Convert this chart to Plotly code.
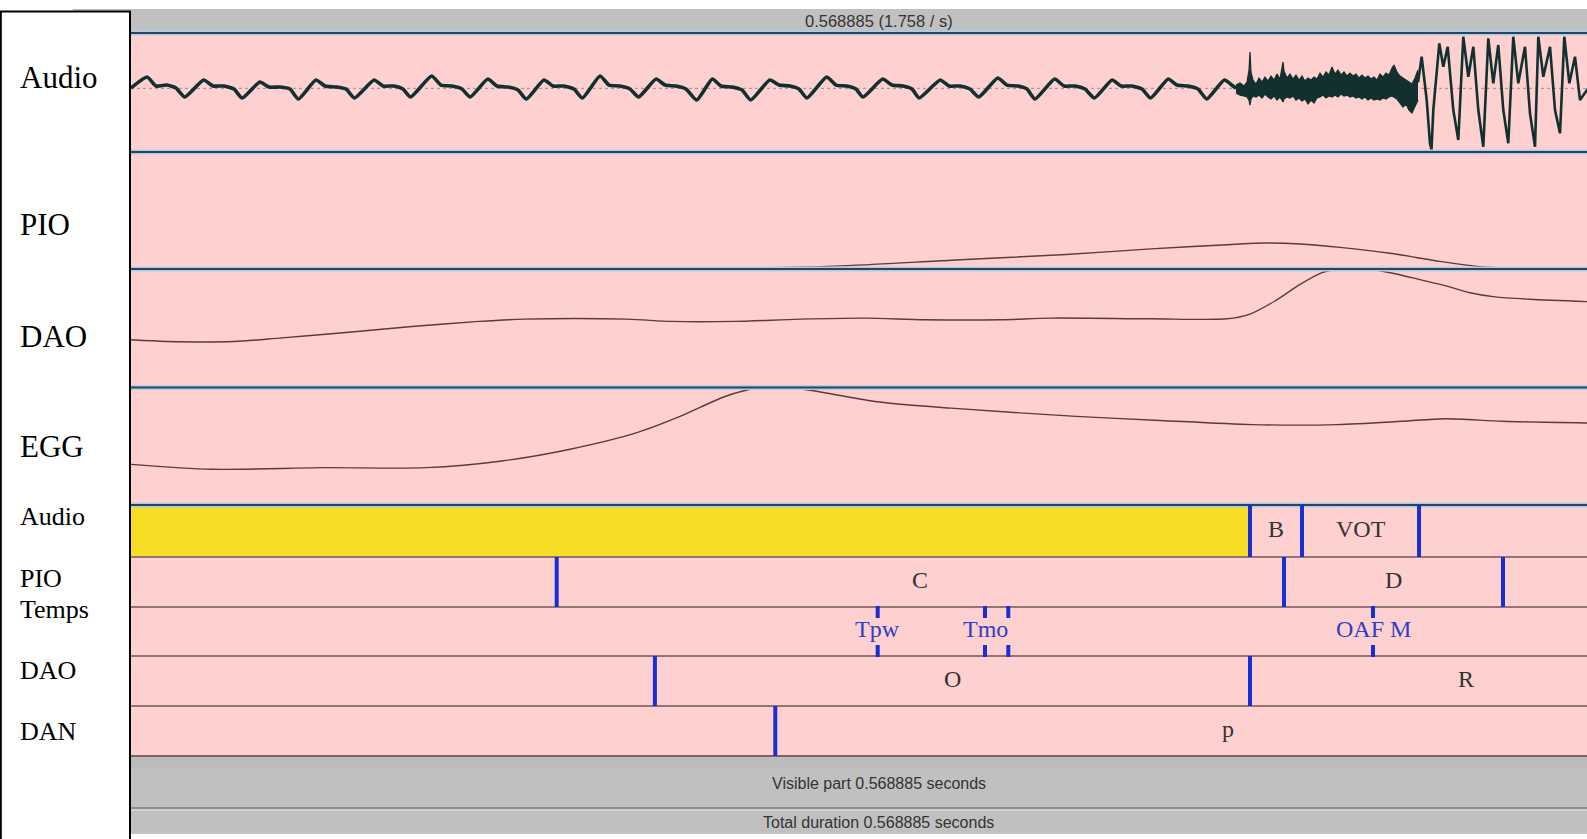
import plotly.graph_objects as go

W, H = 1587, 839

TOTAL_S = 0.568885
TOTAL_MS = TOTAL_S * 1000
VIEW_MS = [19.495, 535.568]

# ---------------- Signals (time in ms) ----------------
# Audio: quiet stretch before the release (relative amplitude)
audio_t = [19.49, 25.17, 28.36, 32.25, 35.44, 38.53, 45.26, 48.56, 52.46, 56.00,
           58.91, 65.15, 68.41, 72.31, 75.85, 78.83, 85.03, 88.26, 92.16, 95.70,
           98.71, 105.66, 108.81, 112.71, 115.90, 118.60, 126.04, 129.37, 133.27, 136.82,
           139.72, 145.96, 149.22, 153.12, 156.67, 159.64, 165.85, 169.07, 172.97, 176.51,
           179.53, 185.73, 188.92, 192.82, 196.36, 199.41, 205.61, 208.77, 212.67, 216.21,
           220.04, 225.53, 228.62, 232.52, 236.06, 239.18, 245.91, 249.18, 253.07, 256.26,
           259.10, 266.05, 269.38, 273.28, 276.46, 278.95, 285.93, 289.23, 293.13, 296.32,
           298.87, 306.31, 309.43, 313.33, 316.87, 320.00, 326.73, 330.00, 333.89, 337.08,
           339.91, 346.86, 350.19, 354.09, 357.64, 361.00, 367.24, 370.40, 374.30, 377.84,
           380.93, 387.13, 390.25, 394.14, 397.69, 400.81, 407.01, 410.09, 411.16]
audio_a = [0.005, 0.19, 0.039, 0.055, 0.005, -0.146, 0.139, 0.039, 0.039, -0.012,
           -0.163, 0.106, 0.022, 0.022, -0.012, -0.18, 0.139, 0.039, 0.022, -0.012,
           -0.163, 0.139, 0.039, 0.039, -0.012, -0.146, 0.207, 0.055, 0.039, -0.012,
           -0.146, 0.156, 0.039, 0.022, -0.029, -0.18, 0.139, 0.039, 0.039, -0.012,
           -0.163, 0.207, 0.055, 0.039, -0.012, -0.146, 0.156, 0.055, 0.039, -0.012,
           -0.197, 0.156, 0.039, 0.022, -0.029, -0.197, 0.139, 0.055, 0.039, -0.012,
           -0.163, 0.19, 0.055, 0.039, -0.012, -0.146, 0.156, 0.055, 0.039, -0.012,
           -0.163, 0.139, 0.039, 0.039, -0.012, -0.146, 0.173, 0.055, 0.039, -0.012,
           -0.18, 0.156, 0.039, 0.039, -0.012, -0.163, 0.139, 0.039, 0.039, -0.012,
           -0.163, 0.156, 0.055, 0.039, -0.012, -0.18, 0.139, 0.039, 0.0]

# Audio: noisy burst, upper / lower envelope
burst_t = [411.16, 412.58, 413.99, 415.06, 415.77, 416.12, 416.47, 417.18, 418.25, 419.31,
           420.37, 421.44, 422.50, 423.56, 424.63, 425.69, 426.75, 427.46, 427.82, 428.17,
           429.23, 430.30, 431.36, 432.42, 433.49, 434.55, 435.61, 436.68, 437.74, 438.80,
           439.87, 440.93, 441.99, 443.06, 444.12, 445.18, 446.25, 447.31, 448.37, 449.44,
           450.50, 451.56, 452.63, 453.69, 454.75, 455.82, 456.88, 457.94, 459.01, 460.07,
           461.13, 462.20, 463.26, 464.32, 465.39, 466.45, 467.16, 468.22, 469.29, 470.35,
           471.41, 472.47, 473.54, 474.60, 475.67]
burst_hi = [0.055, 0.089, 0.039, 0.106, 0.308, 0.610, 0.274, 0.139, 0.072, 0.173,
            0.106, 0.190, 0.123, 0.207, 0.139, 0.240, 0.156, 0.308, 0.442, 0.291,
            0.173, 0.240, 0.156, 0.224, 0.139, 0.207, 0.123, 0.173, 0.139, 0.190,
            0.156, 0.257, 0.190, 0.274, 0.224, 0.358, 0.240, 0.308, 0.224, 0.274,
            0.207, 0.257, 0.207, 0.240, 0.173, 0.224, 0.173, 0.207, 0.156, 0.190,
            0.139, 0.240, 0.190, 0.257, 0.224, 0.341, 0.392, 0.274, 0.207, 0.173,
            0.139, 0.106, 0.072, 0.173, 0.308]
burst_lo = [-0.079, -0.113, -0.129, -0.146, -0.197, -0.281, -0.180, -0.129, -0.146, -0.113,
            -0.163, -0.096, -0.146, -0.180, -0.129, -0.197, -0.146, -0.213, -0.230, -0.180,
            -0.146, -0.163, -0.129, -0.197, -0.163, -0.213, -0.180, -0.264, -0.197, -0.247,
            -0.163, -0.146, -0.113, -0.163, -0.129, -0.146, -0.113, -0.146, -0.096, -0.129,
            -0.113, -0.146, -0.129, -0.163, -0.146, -0.180, -0.146, -0.197, -0.163, -0.197,
            -0.180, -0.197, -0.163, -0.180, -0.146, -0.129, -0.146, -0.180, -0.247, -0.314,
            -0.264, -0.365, -0.415, -0.297, -0.197]

# Audio: voiced stretch
voiced_t = [475.67, 476.97, 478.75, 479.92, 480.45, 481.09, 483.22, 484.63, 486.19, 488.18,
            489.95, 491.72, 493.49, 495.27, 497.04, 498.81, 500.58, 502.35, 504.12, 505.90,
            507.67, 509.44, 511.21, 513.59, 515.36, 517.14, 518.31, 520.08, 522.46, 524.23,
            526.00, 527.53, 529.30, 531.31, 533.09, 535.57, 538.40]
voiced_a = [0.10, 0.531, -0.197, -0.924, -1.037, -0.365, 0.756, 0.363, 0.699, -0.365,
            -0.869, 0.867, 0.195, 0.699, -0.365, -0.982, 0.840, 0.084, 0.728, -0.365,
            -0.924, 0.867, 0.084, 0.699, -0.420, -0.982, 0.867, 0.195, 0.699, -0.365,
            -0.756, 0.867, 0.084, 0.531, -0.197, -0.029, 0.139]

# PIO (fraction of panel height)
pio_t = [19.49, 205.0, 232.0, 269.02, 310.14, 350.90, 381.03, 409.74, 421.44, 433.84,
         448.02, 465.74, 483.46, 497.64, 511.82, 535.57]
pio_v = [0.0, 0.0, 0.006, 0.025, 0.075, 0.124, 0.172, 0.21, 0.222, 0.214,
         0.185, 0.135, 0.065, 0.02, 0.004, 0.0]

# DAO
dao_t = [19.49, 32.25, 56.00, 71.95, 95.70, 119.09, 142.84, 158.79, 195.30, 210.90,
         233.23, 256.62, 279.66, 300.92, 327.86, 345.58, 381.03, 407.97, 416.12, 424.98,
         433.84, 441.64, 448.02, 458.65, 467.51, 476.38, 485.24, 494.10, 502.96, 515.36,
         535.57]
dao_v = [0.403, 0.389, 0.389, 0.417, 0.465, 0.515, 0.558, 0.577, 0.577, 0.558,
         0.558, 0.577, 0.586, 0.572, 0.572, 0.586, 0.58, 0.58, 0.62, 0.73,
         0.87, 0.97, 0.998, 0.998, 0.96, 0.91, 0.86, 0.80, 0.765, 0.745,
         0.725]

# EGG
egg_t = [19.49, 48.20, 87.55, 124.06, 150.99, 174.74, 198.49, 214.09, 230.04, 241.02,
         249.53, 256.62, 283.20, 310.14, 354.45, 384.22, 416.83, 446.96, 470.00, 485.24,
         505.79, 535.57]
egg_v = [0.346, 0.304, 0.318, 0.318, 0.375, 0.473, 0.614, 0.755, 0.924, 0.994,
         0.998, 0.99, 0.882, 0.825, 0.755, 0.72, 0.685, 0.685, 0.713, 0.735,
         0.713, 0.699]

# ---------------- TextGrid tiers ----------------
audio_tier_bounds = [416.12, 434.55, 476.02]
audio_tier_labels = ["", "B", "VOT", ""]
pio_tier_bounds = [170.38, 428.17, 505.79]
pio_tier_labels = ["", "C", "D", ""]
temps_points = [284.16, 322.19, 330.45, 459.72]
temps_labels = ["Tpw", "Tmo", "", "OAF M"]
dao_tier_bounds = [205.19, 416.12]
dao_tier_labels = ["", "O", "R"]
dan_tier_bounds = [247.86]
dan_tier_labels = ["", "p"]

signal_names = ["Audio", "PIO", "DAO", "EGG"]
tier_names = ["Audio", "PIO", "Temps", "DAO", "DAN"]

# ---------------- Styling ----------------
PINK = "#FED0D0"
GRAY = "#C0C0C0"
YELLOW = "#F8DD27"
WAVE = "#12302E"
CURVE = "#5B3B3B"
BOUND = "#1A2ED6"
POINT_TXT = "#2D3FC4"
TXT = "#333333"
PANEL_LINE = "#1F4761"
PANEL_HALO = "#B6CADF"
TIER_LINE = "#947474"
SERIF = "Liberation Serif, Times New Roman, serif"
SANS = "Liberation Sans, Arial, sans-serif"


def px(x):
    return x / W


def py(y):
    return 1 - y / H


# pixel rows of the layout
panel_edges = [33, 152, 269, 387.6, 505]
tier_rows = [(505, 557), (557, 607), (607, 656), (656, 706), (706, 756)]

fig = go.Figure()

common = dict(mode="lines", hoverinfo="skip", xaxis="x")
fig.add_trace(go.Scatter(x=audio_t, y=audio_a, yaxis="y",
                         line=dict(color=WAVE, width=3.6, shape="spline", smoothing=0.5),
                         **common))
fig.add_trace(go.Scatter(x=burst_t, y=burst_hi, yaxis="y",
                         line=dict(color=WAVE, width=1.2), **common))
fig.add_trace(go.Scatter(x=burst_t, y=burst_lo, yaxis="y", fill="tonexty",
                         fillcolor=WAVE, line=dict(color=WAVE, width=1.2), **common))
fig.add_trace(go.Scatter(x=voiced_t, y=voiced_a, yaxis="y",
                         line=dict(color=WAVE, width=2.6), **common))
fig.add_trace(go.Scatter(x=pio_t, y=pio_v, yaxis="y2",
                         line=dict(color=CURVE, width=1.4, shape="spline", smoothing=0.8), **common))
fig.add_trace(go.Scatter(x=dao_t, y=dao_v, yaxis="y3",
                         line=dict(color=CURVE, width=1.4, shape="spline", smoothing=0.8), **common))
fig.add_trace(go.Scatter(x=egg_t, y=egg_v, yaxis="y4",
                         line=dict(color=CURVE, width=1.4, shape="spline", smoothing=0.8), **common))

shapes = []


def rect(x0, y0, x1, y1, color, layer="below"):
    shapes.append(dict(type="rect", xref="paper", yref="paper",
                       x0=px(x0), x1=px(x1), y0=py(y1), y1=py(y0),
                       fillcolor=color, line=dict(width=0), layer=layer))


def hline(y, color, width, x0=131, x1=W, layer="above"):
    shapes.append(dict(type="line", xref="paper", yref="paper",
                       x0=px(x0), x1=px(x1), y0=py(y), y1=py(y),
                       line=dict(color=color, width=width), layer=layer))


# backgrounds
rect(73, 9, W, 32, GRAY)
rect(131, 33, W, 756, PINK)
rect(73, 756, W, 807, GRAY)
rect(73, 757, W, 768, "#BBBBBE")
rect(73, 810, W, 834, GRAY)
rect(73, 807, W, 809.6, "#8E8E8E")
hline(810.2, "#DCDCDC", 1, x0=73)

# selected (first) interval of the audio tier
shapes.append(dict(type="rect", xref="x", yref="paper",
                   x0=VIEW_MS[0], x1=audio_tier_bounds[0],
                   y0=py(tier_rows[0][1]), y1=py(tier_rows[0][0]),
                   fillcolor=YELLOW, line=dict(width=0), layer="below"))

# zero line of the waveform
shapes.append(dict(type="line", xref="paper", yref="y", x0=px(131), x1=1, y0=0, y1=0,
                   line=dict(color="#A08C8C", width=1, dash="dot"), layer="below"))

# signal panel separators
for y in panel_edges:
    hline(y, PANEL_HALO, 5)
    hline(y, PANEL_LINE, 2)

# tier separators
for top, bot in tier_rows[1:]:
    hline(top, TIER_LINE, 1.8)
hline(756, "#7E6262", 2)

# interval boundaries
interval_tiers = [
    (0, audio_tier_bounds, audio_tier_labels),
    (1, pio_tier_bounds, pio_tier_labels),
    (3, dao_tier_bounds, dao_tier_labels),
    (4, dan_tier_bounds, dan_tier_labels),
]
annotations = []
for row, bounds, labels in interval_tiers:
    top, bot = tier_rows[row]
    for b in bounds:
        shapes.append(dict(type="line", xref="x", yref="paper", x0=b, x1=b,
                           y0=py(bot), y1=py(top), line=dict(color=BOUND, width=4),
                           layer="above"))
    edges = [0.0] + bounds + [TOTAL_MS]
    for i, lab in enumerate(labels):
        if lab:
            annotations.append(dict(x=(edges[i] + edges[i + 1]) / 2, xref="x",
                                    y=py((top + bot) / 2 - 2.5), yref="paper", text=lab,
                                    showarrow=False, xanchor="center", yanchor="middle",
                                    font=dict(family=SERIF, size=24, color=TXT)))

# point tier
top, bot = tier_rows[2]
for t, lab in zip(temps_points, temps_labels):
    for y0, y1 in [(top - 1, top + 11), (bot - 11, bot + 1)]:
        shapes.append(dict(type="line", xref="x", yref="paper", x0=t, x1=t,
                           y0=py(y1), y1=py(y0), line=dict(color=BOUND, width=4),
                           layer="above"))
    if lab:
        annotations.append(dict(x=t, xref="x", y=py((top + bot) / 2 - 2.5), yref="paper",
                                text=lab, showarrow=False, xanchor="center",
                                yanchor="middle",
                                font=dict(family=SERIF, size=24, color=POINT_TXT)))

# name panel on the left
shapes.append(dict(type="rect", xref="paper", yref="paper", x0=px(0.8), x1=px(130),
                   y0=py(850), y1=py(11.5), fillcolor="white",
                   line=dict(color="black", width=2), layer="above"))

signal_label_y = [77, 224, 336, 446]
for name, y in zip(signal_names, signal_label_y):
    annotations.append(dict(x=px(17.5), xref="paper", y=py(y), yref="paper", text=name,
                            showarrow=False, xanchor="left", yanchor="middle",
                            font=dict(family=SERIF, size=31, color="black")))

tier_label_y = [516, 578, 609, 670, 731]
for name, y in zip(tier_names, tier_label_y):
    annotations.append(dict(x=px(17.5), xref="paper", y=py(y), yref="paper", text=name,
                            showarrow=False, xanchor="left", yanchor="middle",
                            font=dict(family=SERIF, size=26, color="black")))

# time bars
annotations.append(dict(x=TOTAL_MS / 2, xref="x", y=py(20.5), yref="paper",
                        text=f"{TOTAL_S:.6f} ({1 / TOTAL_S:.3f} / s)", showarrow=False,
                        xanchor="center", yanchor="middle",
                        font=dict(family=SANS, size=16.5, color=TXT)))
annotations.append(dict(x=TOTAL_MS / 2, xref="x", y=py(783), yref="paper",
                        text=f"Visible part {TOTAL_S:.6f} seconds", showarrow=False,
                        xanchor="center", yanchor="middle",
                        font=dict(family=SANS, size=16, color=TXT)))
annotations.append(dict(x=TOTAL_MS / 2, xref="x", y=py(822), yref="paper",
                        text=f"Total duration {TOTAL_S:.6f} seconds", showarrow=False,
                        xanchor="center", yanchor="middle",
                        font=dict(family=SANS, size=16, color=TXT)))

hidden = dict(visible=False, showgrid=False, zeroline=False, fixedrange=True)
fig.update_layout(
    width=W, height=H,
    margin=dict(l=0, r=0, t=0, b=0),
    paper_bgcolor="white",
    plot_bgcolor="rgba(0,0,0,0)",
    showlegend=False,
    xaxis=dict(domain=[px(131), 1], range=VIEW_MS, anchor="y", **hidden),
    yaxis=dict(domain=[py(152), py(33)], range=[-1.07, 0.93], anchor="x", **hidden),
    yaxis2=dict(domain=[py(269), py(152)], range=[0, 1], anchor="x", **hidden),
    yaxis3=dict(domain=[py(387.6), py(269)], range=[0, 1], anchor="x", **hidden),
    yaxis4=dict(domain=[py(505), py(387.6)], range=[0, 1], anchor="x", **hidden),
    shapes=shapes,
    annotations=annotations,
)

fig.write_html("out.html", config={"displayModeBar": False})
